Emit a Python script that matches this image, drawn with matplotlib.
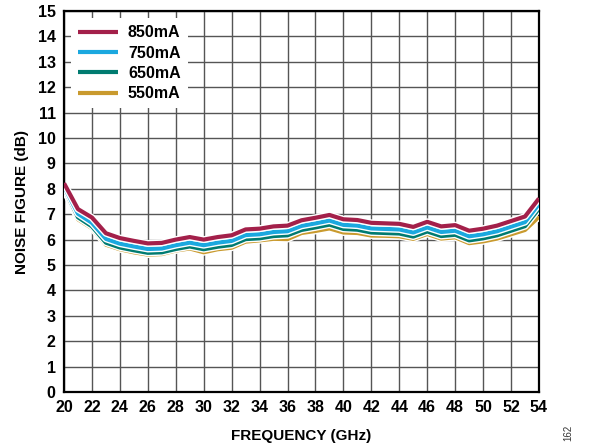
import numpy as np
import matplotlib
matplotlib.use('Agg')
import matplotlib.pyplot as plt
import matplotlib.patheffects as pe

# DATA

freq = list(range(20, 55))

nf_850 = [8.22, 7.20, 6.87, 6.25, 6.06, 5.95, 5.85, 5.87, 6.00, 6.10, 6.00, 6.10, 6.17, 6.40, 6.43,
          6.52, 6.55, 6.76, 6.86, 6.97, 6.80, 6.77, 6.66, 6.64, 6.62, 6.50, 6.70, 6.52, 6.57, 6.35,
          6.43, 6.55, 6.73, 6.91, 7.62]
nf_750 = [8.10, 7.02, 6.66, 6.03, 5.84, 5.73, 5.63, 5.65, 5.78, 5.88, 5.78, 5.88, 5.95, 6.18, 6.21,
          6.30, 6.33, 6.54, 6.64, 6.75, 6.58, 6.55, 6.44, 6.42, 6.40, 6.28, 6.48, 6.30, 6.35, 6.13,
          6.21, 6.33, 6.51, 6.69, 7.40]
nf_650 = [8.02, 6.88, 6.52, 5.88, 5.69, 5.58, 5.48, 5.50, 5.63, 5.73, 5.62, 5.72, 5.79, 6.02, 6.05,
          6.14, 6.17, 6.38, 6.48, 6.59, 6.42, 6.39, 6.28, 6.26, 6.24, 6.12, 6.32, 6.14, 6.19, 5.97,
          6.05, 6.17, 6.35, 6.53, 7.22]
nf_550 = [7.98, 6.80, 6.45, 5.80, 5.62, 5.50, 5.41, 5.43, 5.57, 5.65, 5.50, 5.62, 5.68, 5.92, 5.97,
          6.03, 6.02, 6.26, 6.34, 6.44, 6.28, 6.26, 6.16, 6.15, 6.13, 6.03, 6.22, 6.04, 6.09, 5.86,
          5.93, 6.04, 6.21, 6.38, 6.90]

labels = ['850mA', '750mA', '650mA', '550mA']
colors = ['#A3204A', '#1BA8DF', '#007B70', '#C99A2E']

x_ticks = list(range(20, 55, 2))
y_ticks = list(range(0, 16))


# PLOTTING

plt.rcParams['font.family'] = ['Liberation Sans', 'DejaVu Sans']
plt.rcParams['font.weight'] = 'bold'

fig = plt.figure(figsize=(5.91, 4.46), dpi=100)
ax = fig.add_axes([0.1083, 0.1211, 0.8037, 0.8542])

series = [nf_850, nf_750, nf_650, nf_550]
for i, (vals, lab, col) in enumerate(zip(series, labels, colors)):
    ax.plot(freq, vals, color=col, lw=3.0, label=lab, zorder=10 - i,
            solid_joinstyle='round', solid_capstyle='butt',
            path_effects=[pe.Stroke(linewidth=5.0, foreground='white'), pe.Normal()])

ax.set_xlim(20, 54)
ax.set_ylim(0, 15)
ax.set_xticks(x_ticks)
ax.set_yticks(y_ticks)
ax.tick_params(axis='both', length=0, labelsize=11.5, pad=6)
for t in ax.get_xticklabels() + ax.get_yticklabels():
    t.set_fontweight('bold')

ax.grid(True, color='#555555', lw=1.0)
ax.set_axisbelow(True)
for s in ax.spines.values():
    s.set_color('black')
    s.set_linewidth(1.6)

ax.set_xlabel('FREQUENCY (GHz)', fontsize=11, fontweight='bold', labelpad=10)
ax.set_ylabel('NOISE FIGURE (dB)', fontsize=11, fontweight='bold', labelpad=6)

# legend: white box with no frame, sits over the grid
leg = ax.legend(loc='upper left', frameon=True, fontsize=11.5, handlelength=2.45,
                labelspacing=0.33, borderaxespad=0.45, borderpad=0.45, handletextpad=0.65)
leg.get_frame().set_facecolor('white')
leg.get_frame().set_edgecolor('none')
leg.get_frame().set_alpha(1.0)
leg.get_frame().set_boxstyle('square', pad=0)
for line in leg.get_lines():
    line.set_path_effects([])
    line.set_linewidth(3)
for t in leg.get_texts():
    t.set_fontweight('bold')
leg.set_zorder(20)

fig.text(0.962, 0.03, '162', rotation=90, fontsize=7, fontweight='normal',
         color='#333333', ha='center', va='center')

plt.savefig('out.png', dpi=100)
